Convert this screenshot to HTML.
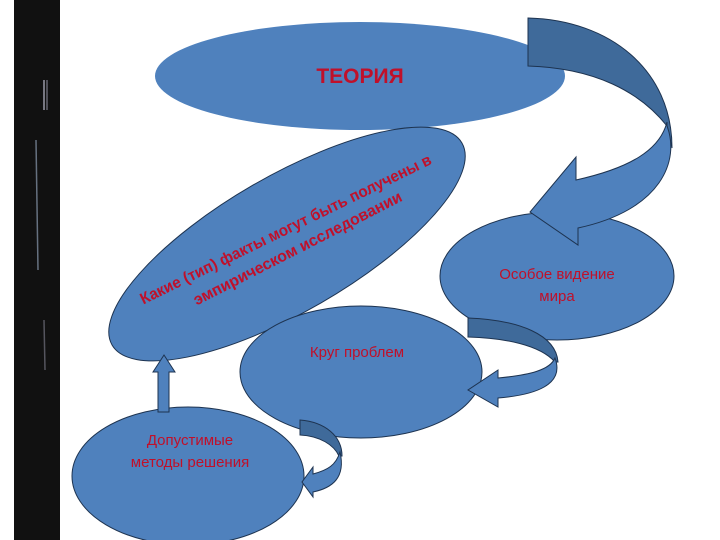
<!DOCTYPE html>
<html><head><meta charset="utf-8"><style>
html,body{margin:0;padding:0;background:#fff;width:720px;height:540px;overflow:hidden}
svg text{font-family:"Liberation Sans","DejaVu Sans",sans-serif;fill:#c0102a}
</style></head><body>
<svg width="720" height="540" viewBox="0 0 720 540" xmlns="http://www.w3.org/2000/svg">
<rect x="0" y="0" width="720" height="540" fill="#fff"/>
<rect x="14" y="0" width="46" height="540" fill="#111"/>
<line x1="36" y1="140" x2="38" y2="270" stroke="#8a9ab0" stroke-width="1.5" opacity="0.7"/>
<line x1="44" y1="80" x2="44" y2="110" stroke="#bbc" stroke-width="2" opacity="0.6"/>
<line x1="47" y1="80" x2="47" y2="110" stroke="#bbc" stroke-width="1.5" opacity="0.5"/>
<line x1="44" y1="320" x2="45" y2="370" stroke="#99a" stroke-width="1.5" opacity="0.5"/>

<g stroke="#1d3350" stroke-width="1" fill="#4f81bd">
<ellipse cx="360" cy="76" rx="205" ry="54" stroke="none"/>
<ellipse cx="287" cy="244" rx="202" ry="68" transform="rotate(-30 287 244)"/>
<ellipse cx="557" cy="276" rx="117" ry="64"/>
<ellipse cx="361" cy="372" rx="121" ry="66"/>
<ellipse cx="188" cy="476" rx="116" ry="69"/>
<polygon points="158,412 158,372 153,372 164,355 175,372 169,372 169,412"/>

<path fill="#3f6a9a" d="M528,18 C610,20 672,70 672,148 L667,126 C640,92 595,68 528,66 Z"/>
<path d="M667,126 C680,160 662,210 578,228 L578,245 L530,212 L576,157 L576,180 C630,168 660,150 667,122 Z"/>

<path fill="#3f6a9a" d="M468,318 C520,320 556,335 558,362 L555,362 C540,345 505,338 468,337 Z"/>
<path d="M555,358 C565,385 535,395 498,398 L498,407 L468,390 L498,370 L498,378 C530,375 550,370 555,358 Z"/>

<path fill="#3f6a9a" d="M300,420 C325,422 342,436 342,456 L339,456 C334,445 320,436 300,435 Z"/>
<path d="M340,452 C346,478 332,488 313,492 L313,497 L302,482 L313,467 L313,474 C328,470 336,465 340,452 Z"/>
</g>

<text x="360" y="83" text-anchor="middle" font-size="21" font-weight="bold">ТЕОРИЯ</text>
<text transform="translate(288,234) rotate(-26)" x="0" y="0" text-anchor="middle" font-size="16" font-weight="bold" textLength="322" lengthAdjust="spacingAndGlyphs">Какие (тип) факты могут быть получены в</text>
<text transform="translate(300,253) rotate(-27)" x="0" y="0" text-anchor="middle" font-size="16" font-weight="bold" textLength="232" lengthAdjust="spacingAndGlyphs">эмпирическом исследовании</text>
<text x="557" y="279" text-anchor="middle" font-size="15">Особое видение</text>
<text x="557" y="301" text-anchor="middle" font-size="15">мира</text>
<text x="357" y="357" text-anchor="middle" font-size="15">Круг проблем</text>
<text x="190" y="445" text-anchor="middle" font-size="15">Допустимые</text>
<text x="190" y="467" text-anchor="middle" font-size="15">методы решения</text>
</svg>
</body></html>
